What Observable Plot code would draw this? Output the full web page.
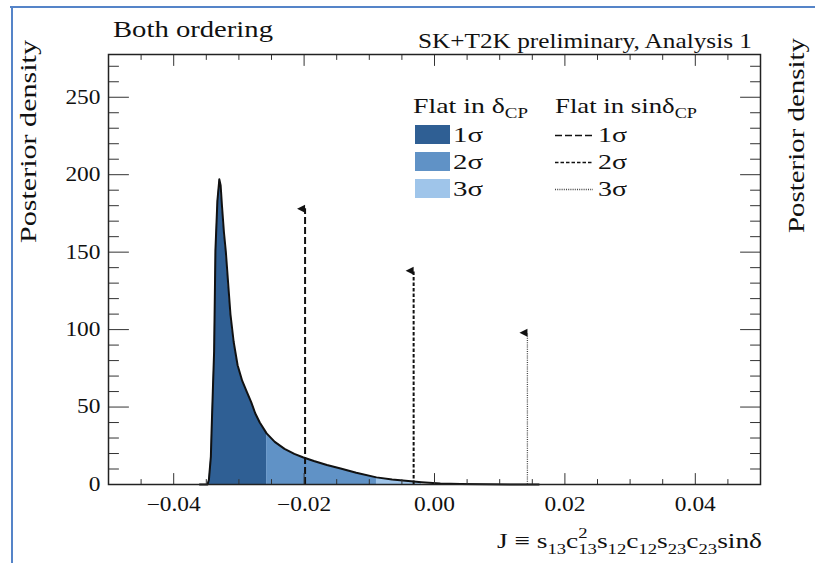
<!DOCTYPE html>
<html><head><meta charset="utf-8">
<script src="https://cdn.jsdelivr.net/npm/d3@7"></script>
<script src="https://cdn.jsdelivr.net/npm/@observablehq/plot@0.6"></script>
<style>
html,body{margin:0;padding:0;background:#fff;}
#chart{position:relative;width:815px;height:563px;overflow:hidden;}
svg text{font-family:"Liberation Serif","Times New Roman",serif;}
</style></head><body><div id="chart"></div>
<script>
// ---- data ----
const J = [-0.0360,-0.0348,-0.0346,-0.0343,-0.0342,-0.0340,-0.0338,-0.0336,-0.0333,-0.0330,-0.0328,-0.0326,-0.0323,-0.0320,-0.0316,-0.0313,-0.0308,-0.0302,-0.0295,-0.0288,-0.0281,-0.0275,-0.0268,-0.02575,-0.0245,-0.0230,-0.0215,-0.0202,-0.0185,-0.0165,-0.0144,-0.0120,-0.0089,-0.0065,-0.0032,-0.0020,0.0009,0.0040,0.0080,0.0120,0.0160];
const density = [0,0,3,18,33,60,86,151,183,197,193,180,163,150,127,110,92,77,67,60,53,46,40,33,27.5,23,19.8,17.6,15.2,12.6,10.3,7.6,4.6,3.2,1.9,1.5,0.7,0.35,0.15,0.05,0];
const sigmaLevels = ["1σ","2σ","3σ"];
const flatEdges = [-0.0360,-0.02575,-0.0089,-0.0020];   // Flat in δCP credible-interval edges
const sinEdges = [-0.01985,-0.0032,0.01425];           // Flat in sinδCP interval edges
const sinTops = [178,138,98];
const xMajor = [-0.04,-0.02,0,0.02,0.04];
const xTickLabels = ["−0.04","−0.02","0.00","0.02","0.04"];
const xMinor = [-0.045,-0.035,-0.03,-0.025,-0.015,-0.01,-0.005,0.005,0.01,0.015,0.025,0.03,0.035,0.045];
const yMajor = [0,50,100,150,200,250];
const yMinor = [10,20,30,40,60,70,80,90,110,120,130,140,160,170,180,190,210,220,230,240,260,270];

// ---- styles ----
const fills = ["#2f5f94","#6092c6","#9fc5ea"];
const sinStyles = [
  {dash:"7,3", w:2, c:"#111"},
  {dash:"3.5,2", w:2, c:"#111"},
  {dash:"1,1.2", w:1.3, c:"#444"}
];
const curve = J.map((j,i)=>({j, p:density[i]}));
const bands = sigmaLevels.map((s,i)=>({s, lo:flatEdges[i], hi:flatEdges[i+1]}));
const sinData = sinEdges.map((e,i)=>({level:sigmaLevels[i], j:e, top:sinTops[i]}));

const tickShape = (ux,uy)=>({draw(ctx,l){ctx.moveTo(0,0);ctx.lineTo(ux*l,uy*l);}});
const leftTri = {draw(ctx,size){const r=Math.sqrt(size/Math.PI);ctx.moveTo(-2*r,0);ctx.lineTo(0,-r);ctx.lineTo(0,r);ctx.closePath();}};
const tk = {stroke:"#333", strokeWidth:1, anchor:"start"};

const svg = Plot.plot({
  width:815, height:563,
  marginLeft:108, marginRight:55, marginTop:54, marginBottom:79,
  style:{fontFamily:"Liberation Serif", fontSize:"20px", color:"#111", background:"#fff"},
  x:{domain:[-0.05,0.05]},
  y:{domain:[0,277.6]},
  marks:[
    ...bands.map((b,i)=>Plot.areaY(curve.filter(d=>d.j>=b.lo && d.j<=b.hi),{x:"j",y:"p",fill:fills[i]})),
    Plot.line(curve,{x:"j",y:"p",stroke:"#111",strokeWidth:2}),
    ...sinData.map((d,i)=>Plot.ruleX([d],{x:"j",y1:0,y2:"top",stroke:sinStyles[i].c,strokeWidth:sinStyles[i].w,strokeDasharray:sinStyles[i].dash})),
    Plot.dot(sinData,{x:"j",y:"top",symbol:leftTri,r:4,fill:"#111"}),
    Plot.vector(xMajor,{x:d=>d,frameAnchor:"bottom",length:11,shape:tickShape(0,-1),...tk}),
    Plot.vector(xMinor,{x:d=>d,frameAnchor:"bottom",length:5,shape:tickShape(0,-1),...tk}),
    Plot.vector(xMajor,{x:d=>d,frameAnchor:"top",length:11,shape:tickShape(0,1),...tk}),
    Plot.vector(xMinor,{x:d=>d,frameAnchor:"top",length:5,shape:tickShape(0,1),...tk}),
    Plot.vector(yMajor,{y:d=>d,frameAnchor:"left",length:20,shape:tickShape(1,0),...tk}),
    Plot.vector(yMinor,{y:d=>d,frameAnchor:"left",length:10,shape:tickShape(1,0),...tk}),
    Plot.vector(yMajor,{y:d=>d,frameAnchor:"right",length:20,shape:tickShape(-1,0),...tk}),
    Plot.vector(yMinor,{y:d=>d,frameAnchor:"right",length:10,shape:tickShape(-1,0),...tk}),
    Plot.frame({stroke:"#222",strokeWidth:1.5}),
    Plot.axisX(xMajor,{tickSize:0,tickPadding:12,fontSize:20,label:null,tickFormat:d=>xTickLabels[xMajor.indexOf(d)]}),
    Plot.axisY(yMajor,{tickSize:0,tickPadding:8,fontSize:20,label:null,tickFormat:d=>String(d)})
  ]
});
document.getElementById("chart").appendChild(svg);

// widen tick labels to match the reference glyph proportions
svg.querySelectorAll('g[aria-label="x-axis tick label"] text, g[aria-label="y-axis tick label"] text').forEach(t=>{
  const w=t.getComputedTextLength();
  t.setAttribute("textLength",(w*1.17).toFixed(1));
  t.setAttribute("lengthAdjust","spacingAndGlyphs");
});

const S = d3.select(svg);
// blue slide border
S.append("line").attr("x1",10).attr("x2",815).attr("y1",7).attr("y2",7).attr("stroke","#5584c8").attr("stroke-width",2);
S.append("line").attr("x1",12).attr("x2",12).attr("y1",6).attr("y2",563).attr("stroke","#5584c8").attr("stroke-width",2);

function txt(x,y,s,size,len,anchor="start",rot=0){
  const t=S.append("text").attr("x",x).attr("y",y).attr("font-size",size).attr("fill","#111")
    .attr("text-anchor",anchor).text(s);
  if(len) t.attr("textLength",len).attr("lengthAdjust","spacingAndGlyphs");
  if(rot) t.attr("transform",`rotate(${rot},${x},${y})`);
  return t;
}
txt(113,37,"Both ordering",23,160);
txt(752,48,"SK+T2K preliminary, Analysis 1",22,334,"end");
txt(36,243,"Posterior density",23,203,"start",-90);
txt(804,233,"Posterior density",23,195,"start",-90);

// x-axis title with sub/superscripts
const xt=S.append("text").attr("x",762).attr("y",548).attr("font-size",22).attr("fill","#111")
  .attr("text-anchor","end").attr("textLength",265).attr("lengthAdjust","spacingAndGlyphs");
const parts=[["J ≡ s",0,0,22],["13",6,0,15],["c",-6,0,22],["2",-10,0,15],["13",16,-7.5,15],["s",-6,0,22],["12",6,0,15],["c",-6,0,22],["12",6,0,15],["s",-6,0,22],["23",6,0,15],["c",-6,0,22],["23",6,0,15],["sinδ",-6,0,22]];
parts.forEach(([s,dy,dx,fs])=>xt.append("tspan").attr("dy",dy).attr("dx",dx).attr("font-size",fs).text(s));

// legend
function subText(x,y,main,sub,len){
  const t=S.append("text").attr("x",x).attr("y",y).attr("font-size",22).attr("fill","#111")
    .attr("text-anchor","start").attr("textLength",len).attr("lengthAdjust","spacingAndGlyphs");
  t.append("tspan").text(main);
  t.append("tspan").attr("dy",5).attr("font-size",15).text(sub);
}
subText(413,113,"Flat in δ","CP",115);
subText(555,113,"Flat in sinδ","CP",142);
const rowY=[134.5,161.5,188.5];
sigmaLevels.forEach((s,i)=>{
  S.append("rect").attr("x",415).attr("y",rowY[i]-9.5).attr("width",35).attr("height",19).attr("fill",fills[i]);
  txt(453,rowY[i]+7,s,22,30);
  S.append("line").attr("x1",555).attr("x2",593).attr("y1",rowY[i]+1).attr("y2",rowY[i]+1)
    .attr("stroke",sinStyles[i].c).attr("stroke-width",i==2?1.3:1.6).attr("stroke-dasharray",sinStyles[i].dash);
  txt(598,rowY[i]+7,s,22,29);
});
</script></body></html>
